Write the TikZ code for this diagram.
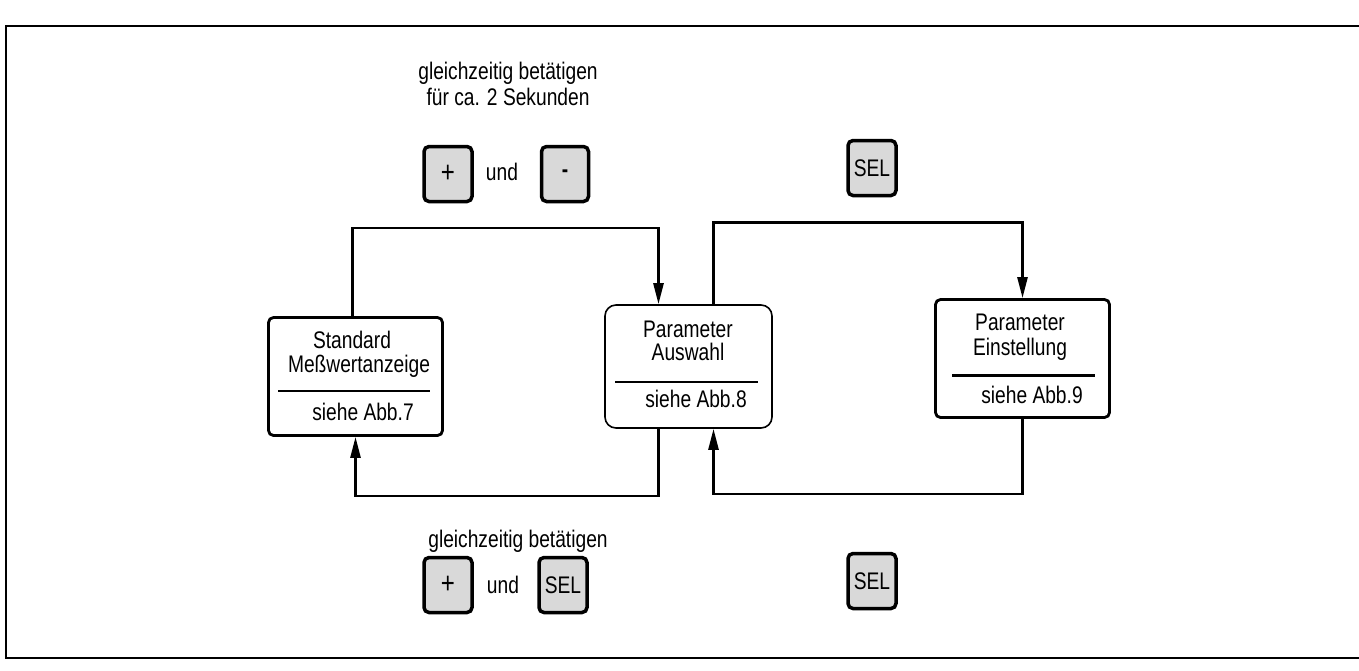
\documentclass[tikz,border=0pt]{standalone}
\usepackage{fontspec}
\setmainfont{Liberation Sans}[FakeStretch=0.8]
\usetikzlibrary{arrows.meta}

\begin{document}
\begin{tikzpicture}[x=1pt,y=-1pt,>={Triangle[length=21pt,width=10pt]},
  font=\fontsize{24}{26}\selectfont,
  box/.style={draw,line width=2.8pt,rounded corners=5pt,minimum width=174pt,minimum height=118pt},
  key/.style={draw,line width=3.5pt,rounded corners=5pt,fill=gray!30,minimum width=48pt,minimum height=55pt,inner sep=0pt},
  txt/.style={anchor=base,inner sep=0pt},
  flow/.style={line width=2.6pt}]
  \useasboundingbox (0,0) rectangle (1359,670);
  \draw[line width=2.4pt] (1359,26) -- (6,26) -- (6,658) -- (1359,658);

  % states
  \node[box] (anzeige) at (355.5,376.5) {};
  \node[box,line width=1.6pt,rounded corners=11pt,minimum width=167pt,minimum height=123pt] (auswahl) at (688.5,366.5) {};
  \node[box] (einstellung) at (1022.5,358.5) {};

  \node[txt] (anzeigeA) at (352,348) {Standard};
  \node[txt] (anzeigeB) at (359,372) {Meßwertanzeige};
  \draw[line width=2.6pt] (278,391) -- (430,391);
  \node[txt] (anzeigeC) at (363,420) {siehe Abb.7};

  \node[txt] (auswahlA) at (688,337) {Parameter};
  \node[txt] (auswahlB) at (688,360) {Auswahl};
  \draw[line width=2.6pt] (615,382) -- (758,382);
  \node[txt] (auswahlC) at (696,407) {siehe Abb.8};

  \node[txt] (einstA) at (1020,330) {Parameter};
  \node[txt] (einstB) at (1020,355) {Einstellung};
  \draw[line width=3pt] (952,375) -- (1095,375);
  \node[txt] (einstC) at (1032,403) {siehe Abb.9};

  % keys
  \node[txt,align=center] (hinweisA) at (508,105) {gleichzeitig betätigen\\für ca. 2 Sekunden};
  \node[key] (plusA) at (448,174) {\fontsize{30}{30}\selectfont +};
  \node[txt] (undA) at (502,180) {und};
  \node[key,minimum width=47pt] (minus) at (565,174) {\textbf{-}};
  \node[key] (selA) at (872,168) {SEL};

  \node[txt] (hinweisB) at (518,547) {gleichzeitig betätigen};
  \node[key] (plusB) at (448,585) {\fontsize{30}{30}\selectfont +};
  \node[txt] (undB) at (503,593) {und};
  \node[key] (selB) at (563,585) {SEL};
  \node[key] (selC) at (872,581) {SEL};

  % transitions
  \draw[flow,->] ([xshift=-3pt]anzeige.north) -- ++(0,-88) -| ([xshift=-30pt]auswahl.north);
  \draw[flow,->] ([xshift=25pt]auswahl.north) -- ++(0,-82) -| (einstellung.north);
  \draw[flow,->] ([xshift=-30pt]auswahl.south) -- ++(0,67) -| (anzeige.south);
  \draw[flow,->] (einstellung.south) -- ++(0,75) -| ([xshift=25pt]auswahl.south);
\end{tikzpicture}
\end{document}
